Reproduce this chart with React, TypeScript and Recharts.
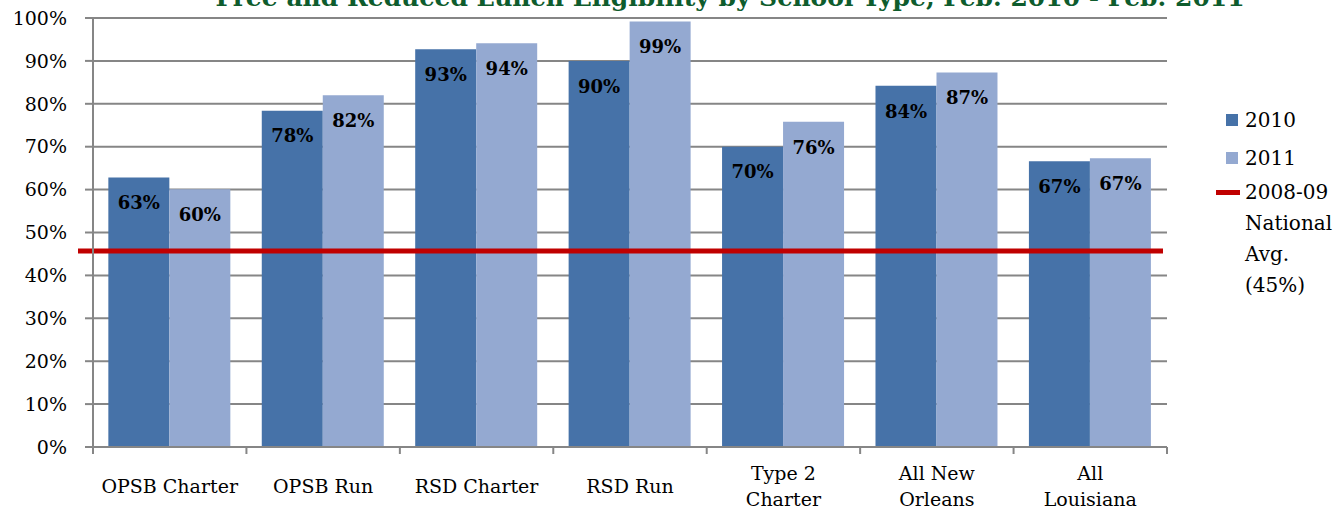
import { BarChart, Bar, XAxis, YAxis, CartesianGrid, ReferenceLine, LabelList } from 'recharts';

const categories = ['OPSB Charter', 'OPSB Run', 'RSD Charter', 'RSD Run', 'Type 2\nCharter', 'All New\nOrleans', 'All\nLouisiana'];
const values2010 = [62.8, 78.4, 92.7, 90.0, 70.0, 84.2, 66.6];
const values2011 = [60.1, 82.0, 94.1, 99.2, 75.8, 87.3, 67.3];
const nationalAvg = 45.7;
const yTicks = [0, 10, 20, 30, 40, 50, 60, 70, 80, 90, 100];

const FONT = '"DejaVu Serif", serif';
const C2010 = '#4672a8';
const C2011 = '#94a9d1';
const RED = '#c00000';
const GRID = '#868686';

const W = 1344;
const H = 513;
const M = { top: 18, right: 177, bottom: 0, left: 0 };
const Y_W = 93;
const X_H = 66;
const bandW = (W - M.left - M.right - Y_W) / categories.length;
const axisY = H - M.bottom - X_H;

const data = categories.map((name, i) => ({
  name,
  y2010: values2010[i],
  y2011: values2011[i],
}));

// category labels can wrap on '\n'; tick marks sit on the category boundaries
function CategoryTick(props: any) {
  const { x, payload, index, visibleTicksCount } = props;
  const lines: string[] = String(payload.value).split('\n');
  const lh = 26;
  const startY = 486 - ((lines.length - 1) * lh) / 2;
  const left = x - bandW / 2;
  const right = x + bandW / 2;
  return (
    <g>
      <line x1={left} x2={left} y1={axisY} y2={axisY + 7} stroke={GRID} strokeWidth={2} />
      {index === visibleTicksCount - 1 && (
        <line x1={right} x2={right} y1={axisY} y2={axisY + 7} stroke={GRID} strokeWidth={2} />
      )}
      <text x={x} y={startY} textAnchor="middle" fontFamily={FONT} fontSize={19} fill="#000">
        {lines.map((l, i) => (
          <tspan key={i} x={x} y={startY + i * lh} dominantBaseline="central">{l}</tspan>
        ))}
      </text>
    </g>
  );
}

function AvgLine(props: any) {
  const { x1, x2, y1 } = props;
  return <line x1={x1 - 15} x2={x2 - 4} y1={y1} y2={y1} stroke={RED} strokeWidth={5} />;
}

function LegendBox() {
  const text: React.CSSProperties = { fontFamily: FONT, fontSize: 20, color: '#000', lineHeight: '31px' };
  return (
    <div style={{ position: 'absolute', left: 1216, top: 101, width: 128 }}>
      <div style={{ display: 'flex', alignItems: 'center', marginLeft: 10, height: 38 }}>
        <span style={{ width: 12, height: 12, background: C2010, marginRight: 7 }} />
        <span style={text}>2010</span>
      </div>
      <div style={{ display: 'flex', alignItems: 'center', marginLeft: 10, height: 38 }}>
        <span style={{ width: 12, height: 12, background: C2011, marginRight: 7 }} />
        <span style={text}>2011</span>
      </div>
      <div style={{ display: 'flex', alignItems: 'flex-start' }}>
        <span style={{ width: 24, height: 5, background: RED, marginRight: 5, marginTop: 13 }} />
        <span style={text}>2008-09<br />National<br />Avg.<br />(45%)</span>
      </div>
    </div>
  );
}

const labelStyle = { fontFamily: FONT, fontWeight: 'bold', fontSize: 18, fill: '#000' };

export default function App() {
  return (
    <div style={{ position: 'fixed', top: 0, left: 0, width: W, height: H, overflow: 'hidden', background: '#fff' }}>
      <BarChart width={W} height={H} data={data} margin={M} barCategoryGap="10%" barGap={0}>
        <CartesianGrid vertical={false} stroke={GRID} strokeWidth={2} />
        <XAxis
          dataKey="name"
          height={X_H}
          interval={0}
          tick={<CategoryTick />}
          tickLine={false}
          axisLine={{ stroke: GRID, strokeWidth: 2 }}
        />
        <YAxis
          width={Y_W}
          domain={[0, 100]}
          ticks={yTicks}
          interval={0}
          tickFormatter={(v) => `${v}%`}
          tickSize={8}
          tickMargin={18}
          axisLine={{ stroke: GRID, strokeWidth: 2 }}
          tickLine={{ stroke: GRID, strokeWidth: 2 }}
          tick={{ fontFamily: FONT, fontSize: 19, fill: '#000' }}
        />
        <ReferenceLine y={nationalAvg} shape={<AvgLine />} ifOverflow="visible" />
        <Bar dataKey="y2010" name="2010" fill={C2010} isAnimationActive={false}>
          <LabelList dataKey="y2010" position="insideTop" offset={19} formatter={(v: any) => `${Math.round(v)}%`} style={labelStyle} />
        </Bar>
        <Bar dataKey="y2011" name="2011" fill={C2011} isAnimationActive={false}>
          <LabelList dataKey="y2011" position="insideTop" offset={19} formatter={(v: any) => `${Math.round(v)}%`} style={labelStyle} />
        </Bar>
      </BarChart>
      <div style={{
        position: 'absolute', top: -17, left: 0, width: 1460, textAlign: 'center',
        fontFamily: FONT, fontWeight: 'bold', fontSize: 25, color: '#0e5c2d', whiteSpace: 'nowrap',
      }}>
        Free and Reduced Lunch Eligibility by School Type, Feb. 2010 - Feb. 2011
      </div>
      <LegendBox />
    </div>
  );
}
